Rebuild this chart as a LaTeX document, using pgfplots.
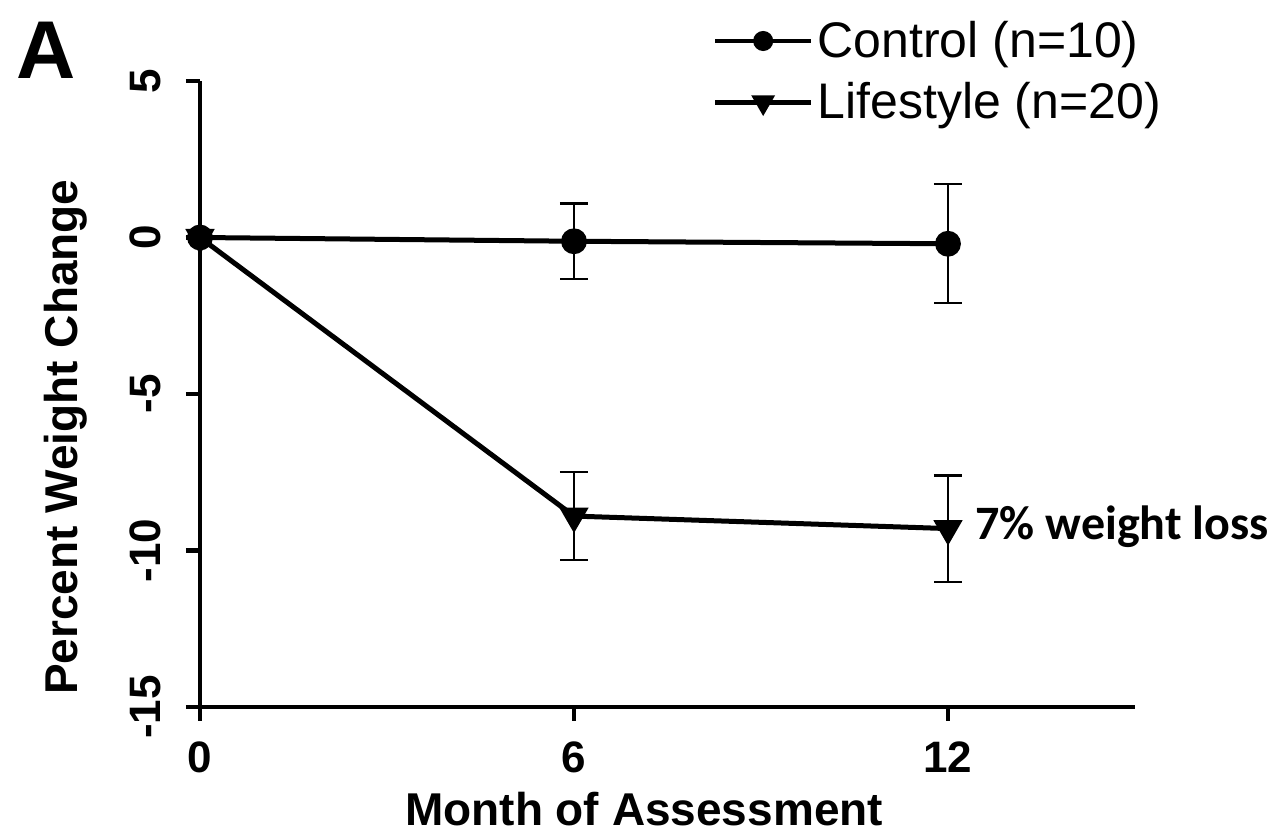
\documentclass[border=0pt]{standalone}
\usepackage{pgfplots}
\pgfplotsset{compat=1.18}
\usepackage{fontspec}
\setmainfont{Liberation Sans}
\newfontfamily\calibri{Carlito}
\begin{document}
\begin{tikzpicture}
\useasboundingbox (-100pt,-66.5pt) rectangle (538pt,353.5pt);
\begin{axis}[
  at={(0,0)}, anchor=south west,
  scale only axis, width=467.5pt, height=313pt,
  xmin=0, xmax=15, ymin=-15, ymax=5,
  clip=false,
  axis x line=bottom, axis y line=left,
  axis line style={-, line width=2.2pt},
  xtick={0,6,12}, xticklabels={0,6,12},
  ytick={-15,-10,-5,0,5}, yticklabels={-15,-10,-5,0,5},
  tick align=outside, major tick length=7pt,
  tick style={line width=2.2pt, black},
  ticklabel style={font=\bfseries\fontsize{22}{26}\selectfont},
  xticklabel style={yshift=-7pt},
  yticklabel style={rotate=90, anchor=south, inner ysep=12.5pt},
  xlabel={Month of Assessment}, ylabel={Percent Weight Change},
  label style={font=\bfseries\fontsize{23}{27}\selectfont},
  xlabel style={at={(axis description cs:0.475,-0.163)}, anchor=center},
  ylabel style={at={(axis description cs:-0.144,0.431)}, anchor=center},
  legend style={at={(axis description cs:0.548,1.015)}, anchor=west, draw=none, fill=none,
    font=\fontsize{25}{30}\selectfont, row sep=7pt, inner sep=0pt, cells={anchor=west}},
  legend image code/.code={\draw[mark repeat=2,mark phase=2,#1] plot coordinates {(0pt,0pt) (24pt,0pt) (48pt,0pt)};},
]
\addlegendimage{black, line width=2.4pt, mark=*, mark size=3.8pt}
\addlegendentry{Control (n=10)}
\addlegendimage{black, line width=2.4pt, mark=triangle*, mark size=4.5pt, mark options={rotate=180}}
\addlegendentry{Lifestyle (n=20)}

\addplot[black, line width=2.5pt, mark=*, mark size=5.2pt, forget plot,
  error bars/.cd, y dir=both, y explicit,
  error bar style={line width=1.2pt},
  error mark options={rotate=90, mark size=7pt, line width=1.2pt}]
  coordinates {(0,0) +- (0,0) (6,-0.12) +- (0,1.2) (12,-0.2) +- (0,1.9)};
\addplot[black, line width=2.5pt, mark=triangle*, mark size=6pt, mark options={rotate=180}, forget plot,
  error bars/.cd, y dir=both, y explicit,
  error bar style={line width=1.2pt},
  error mark options={rotate=90, mark size=7pt, line width=1.2pt}]
  coordinates {(0,0) +- (0,0) (6,-8.9) +- (0,1.4) (12,-9.3) +- (0,1.7)};

\node[font=\calibri\bfseries\fontsize{24}{28}\selectfont, anchor=west, inner sep=0pt] at (axis description cs:0.829,0.2875) {7\% weight loss};
\node[font=\bfseries\fontsize{41}{46}\selectfont, inner sep=0pt] at (axis description cs:-0.1647,1.0495) {A};
\end{axis}
\end{tikzpicture}
\end{document}
